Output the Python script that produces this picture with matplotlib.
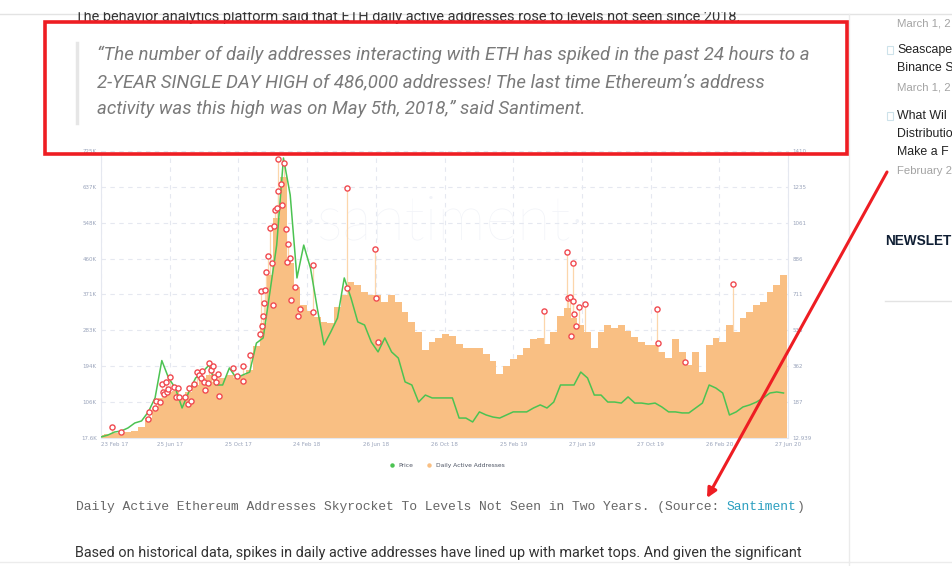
import numpy as np
import pandas as pd
import matplotlib
matplotlib.use('Agg')
import matplotlib.pyplot as plt
from matplotlib.lines import Line2D
from matplotlib.patches import Rectangle

start = '2017-02-23'
step = '12D'

# dzienne aktywne adresy [tys.], co 12 dni
addresses_k = [25, 28, 30, 32, 33, 35, 45, 67, 91, 116,
               131, 133, 116, 131, 148, 165, 173, 156, 165, 173,
               165, 173, 185, 245, 300, 420, 560, 660, 450, 390,
               345, 330, 315, 303, 300, 340, 370, 402, 395, 377,
               370, 370, 353, 370, 353, 328, 303, 279, 235, 254,
               264, 275, 268, 250, 240, 240, 240, 225, 208, 175,
               195, 212, 222, 240, 262, 264, 250, 279, 318, 338,
               313, 296, 279, 240, 279, 296, 289, 296, 282, 266,
               254, 247, 247, 230, 215, 262, 230, 198, 230, 180,
               247, 264, 254, 296, 279, 313, 328, 345, 353, 377,
               395, 420]

# cena ETH [USD], te same daty
price_usd = [18, 27, 42, 47, 62, 86, 96, 140, 208, 390,
             305, 256, 159, 237, 305, 334, 368, 271, 271, 354,
             305, 320, 334, 475, 500, 724, 952, 1376, 1196, 792,
             952, 840, 646, 466, 529, 597, 792, 694, 578, 563,
             480, 432, 500, 432, 402, 286, 271, 188, 222, 208,
             208, 208, 208, 110, 110, 91, 140, 125, 115, 110,
             125, 140, 140, 140, 159, 174, 159, 188, 271, 271,
             271, 334, 305, 222, 222, 188, 188, 183, 213, 183,
             183, 178, 183, 164, 140, 140, 135, 135, 159, 183,
             271, 256, 232, 125, 140, 164, 174, 188, 208, 232,
             237, 232]

# anomalie (czerwone kolka)
anomaly_dates = ['2017-03-15', '2017-03-31', '2017-05-17', '2017-05-19', '2017-05-30',
                 '2017-06-01', '2017-06-08', '2017-06-11', '2017-06-13', '2017-06-15',
                 '2017-06-18', '2017-06-20', '2017-06-22', '2017-06-26', '2017-07-03',
                 '2017-07-06', '2017-07-10', '2017-07-12', '2017-07-22', '2017-07-28',
                 '2017-07-29', '2017-08-02', '2017-08-07', '2017-08-12', '2017-08-16',
                 '2017-08-20', '2017-08-21', '2017-08-25', '2017-08-27', '2017-09-01',
                 '2017-09-03', '2017-09-06', '2017-09-10', '2017-09-12', '2017-09-15',
                 '2017-09-19', '2017-09-21', '2017-10-15', '2017-10-23', '2017-11-02',
                 '2017-11-03', '2017-11-15', '2017-12-02', '2017-12-04', '2017-12-06',
                 '2017-12-08', '2017-12-09', '2017-12-11', '2017-12-13', '2017-12-17',
                 '2017-12-20', '2017-12-24', '2017-12-25', '2017-12-27', '2017-12-29',
                 '2018-01-02', '2018-01-03', '2018-01-04', '2018-01-09', '2018-01-11',
                 '2018-01-14', '2018-01-18', '2018-01-19', '2018-01-21', '2018-01-25',
                 '2018-01-26', '2018-02-03', '2018-02-08', '2018-02-11', '2018-03-06',
                 '2018-03-07', '2018-05-05', '2018-05-06', '2018-06-25', '2018-06-26',
                 '2018-06-30', '2019-04-21', '2019-06-01', '2019-06-02', '2019-06-06',
                 '2019-06-08', '2019-06-11', '2019-06-12', '2019-06-13', '2019-06-17',
                 '2019-06-22', '2019-07-03', '2019-11-07', '2019-11-09', '2019-12-27',
                 '2020-03-21']
anomaly_k = [45, 33, 64, 82, 92,
             109, 106, 151, 131, 126,
             156, 131, 138, 168, 143,
             119, 141, 119, 119, 101,
             141, 109, 151, 180, 173,
             166, 183, 156, 136, 153,
             202, 185, 195, 168, 156,
             175, 121, 190, 170, 195,
             158, 222, 274, 380, 294,
             318, 350, 382, 427, 466,
             535, 449, 345, 540, 580,
             585, 626, 705, 644, 592,
             695, 533, 451, 496, 461,
             358, 390, 318, 336, 444,
             328, 634, 387, 483, 363,
             254, 331, 476, 363, 365,
             269, 449, 355, 323, 294,
             340, 348, 336, 252, 205,
             397]

x_tick_dates = ['2017-02-23', '2017-06-25', '2017-10-25', '2018-02-24', '2018-06-26', '2018-10-26',
                '2019-02-25', '2019-06-27', '2019-10-27', '2020-02-26', '2020-06-27']
x_tick_labels = ['23 Feb 17', '25 Jun 17', '25 Oct 17', '24 Feb 18', '26 Jun 18', '26 Oct 18',
                 '25 Feb 19', '27 Jun 19', '27 Oct 19', '26 Feb 20', '27 Jun 20']
addr_labels = ['17.6K', '106K', '194K', '283K', '371K', '460K', '548K', '637K', '725K']
price_labels = ['12.939', '187', '362', '536', '711', '886', '1061', '1235', '1410']

quote = ['\u201cThe number of daily addresses interacting with ETH has spiked in the past 24 hours to a',
         '2-YEAR SINGLE DAY HIGH of 486,000 addresses! The last time Ethereum\u2019s address',
         'activity was this high was on May 5th, 2018,\u201d said Santiment.']

# widoczne fragmenty paska bocznego
side_dates = ['March 1, 2', 'March 1, 2', 'February 2']
side_titles = ['Seascape', 'Binance S', 'What Wil', 'Distributio', 'Make a F']

# ---- kolory ----
c_bar = '#f9bf83'
c_spike = '#fcd6ab'
c_price = '#4cc352'
c_red = '#ee1d23'
c_tick = '#9aa4bb'
c_grid = '#e5e8f0'

dates = pd.date_range(start, periods=len(addresses_k), freq=step)
an_dates = pd.to_datetime(anomaly_dates)

W, H = 952, 566
fig = plt.figure(figsize=(W/100, H/100), dpi=100)
fig.patch.set_facecolor('white')


def fit(t, width_px):
    # dopasowanie rozmiaru czcionki do szerokosci linii na zrzucie
    r = fig.canvas.get_renderer()
    w = t.get_window_extent(r).width
    t.set_fontsize(t.get_fontsize() * width_px / w)
    return t.get_fontsize()


# ---- wykres ----
ax = fig.add_axes([101/W, 1-438/H, 687/W, 287/H])
ax.text(0.5, 0.75, '\u00b7santiment\u00b7', transform=ax.transAxes, ha='center', va='center',
        fontsize=44, color='#f1f3f8', family='Lato', fontweight='light', zorder=0)
ax.vlines(an_dates, 0, anomaly_k, color=c_spike, lw=0.9, zorder=1)
ax.bar(dates, addresses_k, width=12, color=c_bar, linewidth=0, zorder=2)

ax2 = ax.twinx()
ax2.plot(dates, price_usd, color=c_price, lw=1.1, zorder=3)
ax2.plot(an_dates, anomaly_k, 'o', transform=ax.transData, ms=3.7, mfc='white',
         mec='#f04a50', mew=1.0, zorder=5)

ax.set_xlim(pd.Timestamp(start), pd.Timestamp('2020-06-27'))
ax.set_ylim(17.6, 725)
ax2.set_ylim(12.939, 1410)

ax.set_yticks(np.linspace(17.6, 725, 9))
ax.set_yticklabels(addr_labels)
ax2.set_yticks(np.linspace(12.939, 1410, 9))
ax2.set_yticklabels(price_labels)
ax.set_xticks(pd.to_datetime(x_tick_dates))
ax.set_xticklabels(x_tick_labels)
ax.get_xticklabels()[0].set_ha('left')

for a in (ax, ax2):
    a.tick_params(length=0, labelsize=4, labelcolor=c_tick, pad=3)
    for s in a.spines.values():
        s.set_visible(False)
ax.spines['left'].set_visible(True)
ax.spines['left'].set_color(c_grid)
ax2.spines['right'].set_visible(True)
ax2.spines['right'].set_color(c_grid)
ax.spines['bottom'].set_visible(True)
ax.spines['bottom'].set_color(c_grid)

ax.set_axisbelow(True)
ax.grid(color=c_grid, linestyle=(0, (4, 4)), linewidth=0.8)

fig.legend(handles=[Line2D([], [], marker='o', ls='', color=c_price, ms=2.2, label='Price'),
                    Line2D([], [], marker='o', ls='', color=c_bar, ms=2.2, label='Daily Active Addresses')],
           loc='center', bbox_to_anchor=(445/W, 1-465/H), ncol=2, frameon=False,
           fontsize=4.3, handletextpad=0.2, columnspacing=1.5, labelcolor='#4b5262')

# ---- strona (tekst, ramka, strzalka) ----
ov = fig.add_axes([0, 0, 1, 1], zorder=10)
ov.set_xlim(0, W)
ov.set_ylim(H, 0)
ov.axis('off')
ov.patch.set_alpha(0)

body = 'Roboto'
top = ov.text(75, 17, 'The behavior analytics platform said that ETH daily active addresses rose to levels not seen since 2018.',
              fontsize=11, family=body, color='#333333', va='center', zorder=1)
fit(top, 662)
ov.add_patch(Rectangle((0, 0), W, 11, color='white', zorder=2))
ov.plot([0, W], [14, 14], color='#e3e3e3', lw=1, zorder=0)

ov.plot([77, 77], [43, 123], color='#e6e6e6', lw=2.5)
q = [ov.text(97, 55 + 27*i, line, fontsize=13, family=body, style='italic', color='#7a7a7a', va='center')
     for i, line in enumerate(quote)]
qs = fit(q[0], 709)
for t in q[1:]:
    t.set_fontsize(qs)

ov.add_patch(Rectangle((45, 22), 802, 132, fill=False, ec=c_red, lw=2.6, zorder=5))

mono = 'Liberation Mono'
fs_mono = 9.38
t1 = ov.text(76, 507, 'Daily Active Ethereum Addresses Skyrocket To Levels Not Seen in Two Years. (Source: ',
             fontsize=fs_mono, family=mono, color='#666666', va='center')
t2 = ov.annotate('Santiment', xycoords=t1, xy=(1, 0), va='bottom', fontsize=fs_mono, family=mono, color='#2b9fc0')
ov.annotate(')', xycoords=t2, xy=(1, 0), va='bottom', fontsize=fs_mono, family=mono, color='#666666')

bottom = ov.text(75, 553, 'Based on historical data, spikes in daily active addresses have lined up with market tops. And given the significant',
                 fontsize=11, family=body, color='#333333', va='center')
fit(bottom, 725)
ov.plot([0, W], [562, 562], color='#ececec', lw=1)

# pasek boczny
side = 'Liberation Sans'
ov.plot([849, 849], [14, H], color='#ebebeb', lw=1)
for y, s in zip([23, 88, 171], side_dates):
    ov.text(897, y, s, fontsize=8.2, family=side, color='#a3a3a3', va='center')
for y, s in zip([50, 68, 116, 134, 152], side_titles):
    ov.text(897, y, s, fontsize=8.9, family=side, color='#222222', va='center')
for y in [46, 112]:
    ov.add_patch(Rectangle((887, y), 6, 8, fill=False, ec='#cde2ea', lw=0.8))
ov.text(885, 241, 'NEWSLET', fontsize=9.8, family=side, fontweight='bold', color='#0f1e33', va='center')
ov.plot([885, W], [301, 301], color='#e3e3e3', lw=1)

ov.annotate('', xy=(707, 498), xytext=(887, 172),
            arrowprops=dict(arrowstyle='-|>', color=c_red, lw=2.2, mutation_scale=14, shrinkA=0, shrinkB=0))

plt.savefig('out.png', dpi=100)
